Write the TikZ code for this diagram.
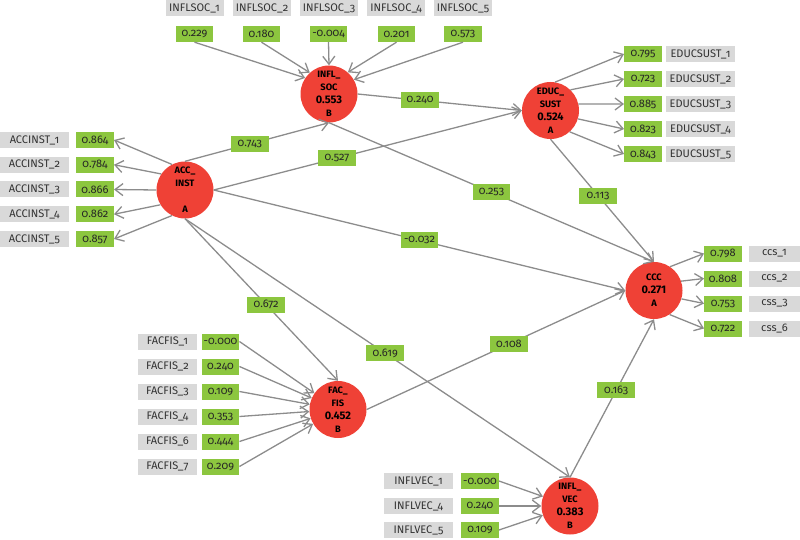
\documentclass[tikz,border=0pt]{standalone}
\usepackage{fontspec}
\setmainfont{Fira Sans}[Numbers=OldStyle]
\newfontfamily\lvfont{Fira Sans}
\usetikzlibrary{arrows.meta}
\definecolor{lvred}{RGB}{239,65,54}
\definecolor{loadgreen}{RGB}{140,198,63}
\definecolor{itemgray}{RGB}{217,217,217}
\definecolor{pathgray}{RGB}{140,140,140}
\newcommand{\lvval}[1]{{\fontsize{11}{13}\selectfont #1}}
\begin{document}
\begin{tikzpicture}[x=1pt,y=-1pt]
	\tikzstyle{latent}=[circle,fill=lvred,minimum size=57pt,inner sep=0pt,align=center,font=\lvfont\bfseries\fontsize{9.3}{13}\selectfont]
	\tikzstyle{item}=[fill=itemgray,minimum height=16pt,inner sep=0pt,text=black!80,font=\fontsize{11}{12}\selectfont]
	\tikzstyle{load}=[fill=loadgreen,minimum width=37.5pt,minimum height=16pt,inner sep=0pt,text=black!85,font=\fontsize{11}{12}\selectfont]
	\tikzstyle{edge}=[pathgray,line width=1.3pt,-{Straight Barb[length=8pt,width=12pt]}]
	\useasboundingbox (0,0) rectangle (800,540);
	\begin{scope}
		\node [latent] (soc) at (329,94) {INFL\_\\SOC\\\lvval{0.553}\\B};
		\node [latent] (acc) at (185,190) {ACC\_\\INST\\\strut\\A};
		\node [latent] (edu) at (550.5,110.5) {EDUC\_\\SUST\\\lvval{0.524}\\A};
		\node [latent] (ccc) at (654,290.5) {CCC\\\lvval{0.271}\\A};
		\node [latent] (fac) at (338,409.5) {FAC\_\\FIS\\\lvval{0.452}\\B};
		\node [latent] (vec) at (570,506) {INFL\_\\VEC\\\lvval{0.383}\\B};

		\node [item,minimum width=58pt] (si1) at (194.5,8.5) {INFLSOC\_1};
		\node [item,minimum width=58pt] (si2) at (262,8.5) {INFLSOC\_2};
		\node [item,minimum width=58pt] (si3) at (329,8.5) {INFLSOC\_3};
		\node [item,minimum width=58pt] (si4) at (396,8.5) {INFLSOC\_4};
		\node [item,minimum width=58pt] (si5) at (463,8.5) {INFLSOC\_5};
		\node [load] (sl1) at (194.5,34) {0.229};
		\node [load] (sl2) at (261.5,34) {0.180};
		\node [load] (sl3) at (328.5,34) {-0.004};
		\node [load] (sl4) at (396.5,34) {0.201};
		\node [load] (sl5) at (463,34) {0.573};

		\node [item,minimum width=69pt] (ai1) at (34.5,140) {ACCINST\_1};
		\node [item,minimum width=69pt] (ai2) at (34.5,164.75) {ACCINST\_2};
		\node [item,minimum width=69pt] (ai3) at (34.5,189.5) {ACCINST\_3};
		\node [item,minimum width=69pt] (ai4) at (34.5,214.25) {ACCINST\_4};
		\node [item,minimum width=69pt] (ai5) at (34.5,239) {ACCINST\_5};
		\node [load] (al1) at (95,140) {0.864};
		\node [load] (al2) at (95,164.75) {0.784};
		\node [load] (al3) at (95,189.5) {0.866};
		\node [load] (al4) at (95,214.25) {0.862};
		\node [load] (al5) at (95,239) {0.857};

		\node [load] (el1) at (643,54) {0.795};
		\node [load] (el2) at (643,79) {0.723};
		\node [load] (el3) at (643,104) {0.885};
		\node [load] (el4) at (643,129) {0.823};
		\node [load] (el5) at (643,154) {0.843};
		\node [item,minimum width=69pt] (ei1) at (700.5,54) {EDUCSUST\_1};
		\node [item,minimum width=69pt] (ei2) at (700.5,79) {EDUCSUST\_2};
		\node [item,minimum width=69pt] (ei3) at (700.5,104) {EDUCSUST\_3};
		\node [item,minimum width=69pt] (ei4) at (700.5,129) {EDUCSUST\_4};
		\node [item,minimum width=69pt] (ei5) at (700.5,154) {EDUCSUST\_5};

		\node [load] (cl1) at (723,253.5) {0.798};
		\node [load] (cl2) at (723,278.5) {0.808};
		\node [load] (cl3) at (723,303.5) {0.753};
		\node [load] (cl4) at (723,328.5) {0.722};
		\node [item,minimum width=51pt] (ci1) at (774.5,253.5) {ccs\_1};
		\node [item,minimum width=51pt] (ci2) at (774.5,278.5) {ccs\_2};
		\node [item,minimum width=51pt] (ci3) at (774.5,303.5) {css\_3};
		\node [item,minimum width=51pt] (ci4) at (774.5,328.5) {css\_6};

		\node [item,minimum width=59pt] (fi1) at (167.5,341.5) {FACFIS\_1};
		\node [item,minimum width=59pt] (fi2) at (167.5,366.5) {FACFIS\_2};
		\node [item,minimum width=59pt] (fi3) at (167.5,391.5) {FACFIS\_3};
		\node [item,minimum width=59pt] (fi4) at (167.5,416.5) {FACFIS\_4};
		\node [item,minimum width=59pt] (fi5) at (167.5,441.5) {FACFIS\_6};
		\node [item,minimum width=59pt] (fi6) at (167.5,466.5) {FACFIS\_7};
		\node [load] (fl1) at (220.5,341.5) {-0.000};
		\node [load] (fl2) at (220.5,366.5) {0.240};
		\node [load] (fl3) at (220.5,391.5) {0.109};
		\node [load] (fl4) at (220.5,416.5) {0.353};
		\node [load] (fl5) at (220.5,441.5) {0.444};
		\node [load] (fl6) at (220.5,466.5) {0.209};

		\node [item,minimum width=69pt] (vi1) at (418.5,481) {INFLVEC\_1};
		\node [item,minimum width=69pt] (vi2) at (418.5,506) {INFLVEC\_4};
		\node [item,minimum width=69pt] (vi3) at (418.5,530) {INFLVEC\_5};
		\node [load] (vl1) at (480,481) {-0.000};
		\node [load] (vl2) at (480,506) {0.240};
		\node [load] (vl3) at (480,530) {0.109};

		\path[edge] (sl1.south) edge (soc.146);
		\path[edge] (sl2.south) edge (soc.132);
		\path[edge] (sl3.south) edge (soc.90);
		\path[edge] (sl4.south) edge (soc.49);
		\path[edge] (sl5.south) edge (soc.30);

		\path[edge] (acc.117) edge (al1.east);
		\path[edge] (acc.146) edge (al2.east);
		\path[edge] (acc.180) edge (al3.east);
		\path[edge] (acc.211) edge (al4.east);
		\path[edge] (acc.243) edge (al5.east);

		\path[edge] (edu.81) edge (el1.west);
		\path[edge] (edu.46) edge (el2.west);
		\path[edge] (edu.13) edge (el3.west);
		\path[edge] (edu.343) edge (el4.west);
		\path[edge] (edu.312) edge (el5.west);

		\path[edge] (ccc.56) edge (cl1.west);
		\path[edge] (ccc.19) edge (cl2.west);
		\path[edge] (ccc.343) edge (cl3.west);
		\path[edge] (ccc.303) edge (cl4.west);

		\path[edge] (fl1.east) edge (fac);
		\path[edge] (fl2.east) edge (fac);
		\path[edge] (fl3.east) edge (fac);
		\path[edge] (fl4.east) edge (fac);
		\path[edge] (fl5.east) edge (fac);
		\path[edge] (fl6.east) edge (fac);

		\path[edge] (vl1.east) edge (vec);
		\path[edge] (vl2.east) edge (vec);
		\path[edge] (vl3.east) edge (vec);

		\path[edge] (acc.north) edge node[load,pos=0.45] {0.743} (soc.south);
		\path[edge] (acc.east) edge node[load,pos=0.40] {0.527} (edu.west);
		\path[edge] (acc.east) edge node[load,pos=0.50] {-0.032} (ccc.west);
		\path[edge] (acc.south) edge node[load,pos=0.53] {0.672} (fac.north);
		\path[edge] (acc.south) edge node[load,pos=0.52] {0.619} (vec.north);
		\path[edge] (soc.east) edge node[load,pos=0.38] {0.240} (edu.west);
		\path[edge] (soc.south) edge node[load,pos=0.50] {0.253} (ccc.north);
		\path[edge] (edu.south) edge node[load,pos=0.46] {0.113} (ccc.north);
		\path[edge] (fac.east) edge node[load,pos=0.55] {0.108} (ccc.west);
		\path[edge] (vec.north) edge node[load,pos=0.55] {0.163} (ccc.south);
	\end{scope}
\end{tikzpicture}
\end{document}
